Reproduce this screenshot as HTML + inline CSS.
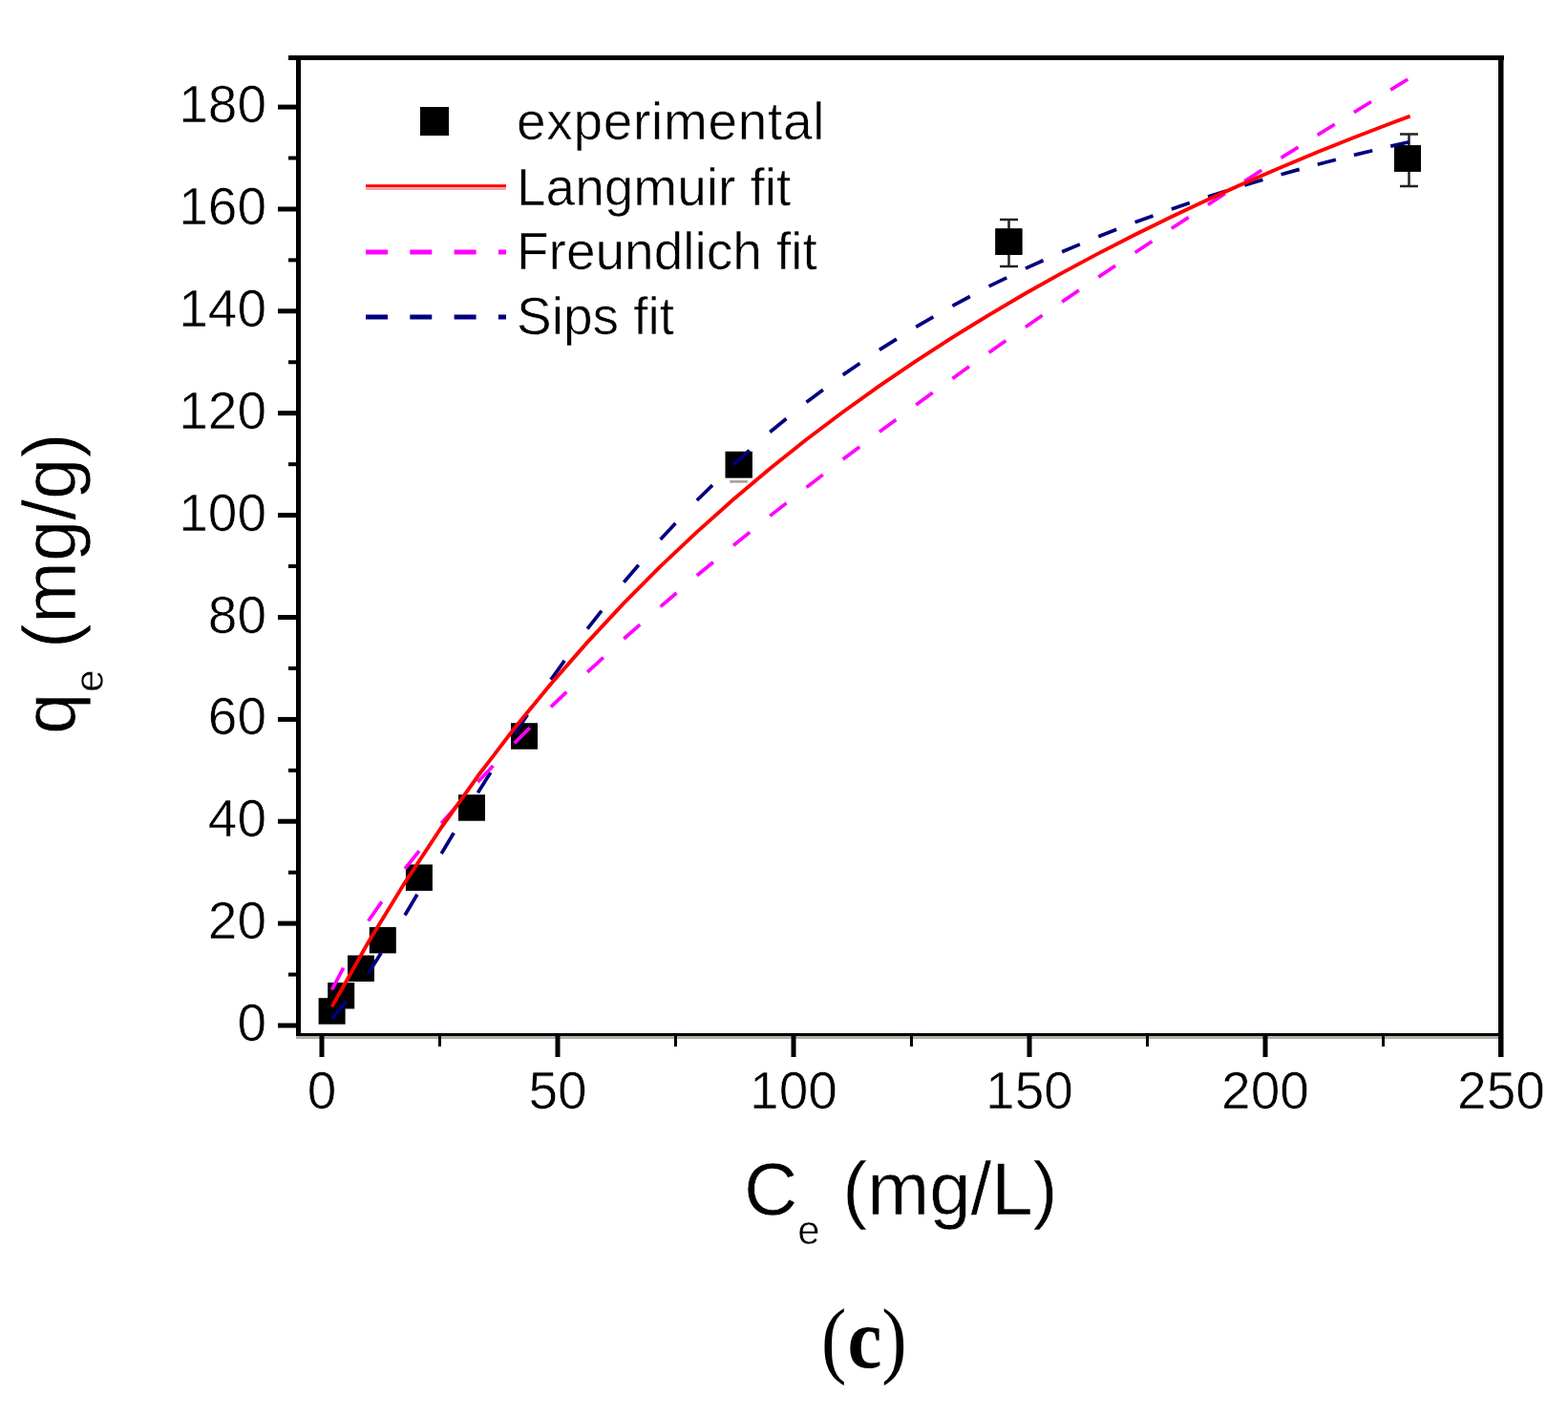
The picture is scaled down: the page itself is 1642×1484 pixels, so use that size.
<!DOCTYPE html>
<html><head><meta charset="utf-8"><title>Adsorption isotherm</title>
<style>
html,body{margin:0;padding:0;background:#fff;}
body{width:1642px;height:1484px;overflow:hidden;}
svg{display:block;}
.s{font-family:"Liberation Sans",Arial,sans-serif;fill:#000;stroke:#fff;stroke-width:0.6px;}
.r{font-family:"Liberation Serif","Times New Roman",serif;fill:#000;}
</style></head><body>
<svg width="1642" height="1484" viewBox="0 0 1642 1484">
<rect width="1642" height="1484" fill="#fff"/>

<g fill="#000">
<rect x="333.6" y="1045.2" width="28" height="27.5"/>
<rect x="343.2" y="1029.0" width="28" height="27.5"/>
<rect x="364.0" y="1000.5" width="28" height="27.5"/>
<rect x="386.8" y="970.9" width="28" height="27.5"/>
<rect x="424.9" y="905.4" width="28" height="27.5"/>
<rect x="480.0" y="832.2" width="28" height="27.5"/>
<rect x="535.0" y="757.2" width="28" height="27.5"/>
<rect x="759.7" y="472.9" width="28" height="27.5"/>
<rect x="1042.4" y="239.4" width="28" height="27.5"/>
<rect x="1460.0" y="152.2" width="28" height="27.5"/>
</g>
<g stroke="#222" stroke-width="2.5" fill="none">
<path d="M1056.5 230V279M1047.0 230H1066.0M1047.0 279H1066.0"/>
<path d="M1475.5 140.5V195M1466.0 140.5H1485.0M1466.0 195H1485.0"/>
</g>
<path d="M764.2 504.4H782.9" stroke="#a8a096" stroke-width="2.6"/>
<g fill="#000">
<rect x="1042.4" y="239.4" width="28" height="27.5"/>
<rect x="1460.0" y="152.2" width="28" height="27.5"/>
<rect x="759.7" y="472.9" width="28" height="27.5"/>
</g>
<path fill="none" stroke="#000080" stroke-width="3.7" d="M347.5 1067.3L362.5 1048.5M385.7 1019.4L399.1 998.1M424.0 958.5L436.9 936.7M462.2 894.0L475.2 872.3M500.4 830.2L513.8 808.9M538.6 769.1L552.4 748.4M576.9 711.8L591.2 691.9M615.1 658.7L630.0 639.7M653.3 609.8L668.7 591.8M691.6 565.0L707.4 548.0M729.8 524.0L746.1 508.1M768.0 486.6L784.8 471.7M806.3 452.5L823.4 438.5M844.5 421.2L861.9 408.2M882.7 392.6L900.5 380.5M920.9 366.4L938.9 355.1M959.2 342.4L977.4 331.9M997.4 320.3L1015.8 310.5M1035.6 299.9L1054.2 290.8M1073.9 281.1L1092.5 272.7M1112.1 263.8L1130.9 255.9M1150.3 247.7L1169.2 240.3M1188.6 232.8L1207.5 225.9M1226.8 218.9L1245.8 212.5M1265.0 206.0L1284.1 200.0M1303.2 194.0L1322.4 188.3M1341.5 182.7L1360.7 177.4M1379.7 172.2L1398.9 167.3M1417.9 162.4L1437.2 157.7M1456.2 153.1L1475.4 148.7"/>
<path fill="none" stroke="#ff00ff" stroke-width="3.7" d="M347.5 1036.6L359.6 1013.7M385.7 964.5L399.8 944.4M424.0 909.9L439.0 891.2M462.2 862.2L477.7 844.6M500.4 818.9L516.4 802.0M538.6 778.4L554.9 762.2M576.9 740.3L593.3 724.6M615.1 703.9L631.8 688.7M653.3 669.0L670.2 654.2M691.6 635.4L708.5 621.0M729.8 602.8L746.9 588.7M768.0 571.2L785.2 557.4M806.3 540.4L823.5 526.9M844.5 510.4L861.8 497.1M882.7 481.0L900.2 467.9M920.9 452.3L938.4 439.4M959.2 424.1L976.7 411.3M997.4 396.4L1015.0 383.8M1035.6 369.2L1053.3 356.8M1073.9 342.4L1091.6 330.2M1112.1 316.1L1129.9 304.0M1150.3 290.1L1168.1 278.2M1188.6 264.5L1206.4 252.7M1226.8 239.3L1244.7 227.6M1265.0 214.4L1282.9 202.8M1303.2 189.7L1321.2 178.3M1341.5 165.4L1359.5 154.1M1379.7 141.4L1397.7 130.2M1417.9 117.6L1436.0 106.5M1456.2 94.1L1474.2 83.0"/>
<polyline fill="none" stroke="#ff0000" stroke-width="3.9" stroke-linejoin="round" points="347.5,1054.4 385.7,986.8 424.0,924.3 462.2,866.5 500.4,812.8 538.6,762.8 576.9,716.2 615.1,672.6 653.3,631.7 691.6,593.2 729.8,557.1 768.0,523.0 806.3,490.8 844.5,460.3 882.7,431.5 920.9,404.1 959.2,378.1 997.4,353.3 1035.6,329.8 1073.9,307.3 1112.1,285.9 1150.3,265.4 1188.6,245.8 1226.8,227.0 1265.0,209.0 1303.2,191.8 1341.5,175.2 1379.7,159.3 1417.9,144.0 1456.2,129.3 1476.7,121.7"/>
<g fill="#000">
<rect x="302" y="58" width="273" height="5"/>
<rect x="302" y="58" width="1273" height="5"/>
<rect x="310" y="58" width="5" height="1027"/>
<rect x="1569" y="58" width="5.5" height="1049"/>
<rect x="310" y="1082" width="1264" height="3"/>
</g>
<rect x="310" y="1085" width="1259" height="3" fill="#b2aea6"/>
<g fill="#000">
<rect x="334.5" y="1085" width="5" height="22"/>
<rect x="581.5" y="1085" width="5" height="22"/>
<rect x="828.5" y="1085" width="5" height="22"/>
<rect x="1075.5" y="1085" width="5" height="22"/>
<rect x="1322.5" y="1085" width="5" height="22"/>
<rect x="459.0" y="1085" width="3" height="11"/>
<rect x="706.0" y="1085" width="3" height="11"/>
<rect x="953.0" y="1085" width="3" height="11"/>
<rect x="1200.0" y="1085" width="3" height="11"/>
<rect x="1447.0" y="1085" width="3" height="11"/>
<rect x="291" y="1071.5" width="19" height="5"/>
<rect x="291" y="964.6" width="19" height="5"/>
<rect x="291" y="857.7" width="19" height="5"/>
<rect x="291" y="750.9" width="19" height="5"/>
<rect x="291" y="644.0" width="19" height="5"/>
<rect x="291" y="537.1" width="19" height="5"/>
<rect x="291" y="430.2" width="19" height="5"/>
<rect x="291" y="323.3" width="19" height="5"/>
<rect x="291" y="216.5" width="19" height="5"/>
<rect x="291" y="109.6" width="19" height="5"/>
<rect x="302" y="1018.6" width="8" height="4"/>
<rect x="302" y="911.7" width="8" height="4"/>
<rect x="302" y="804.8" width="8" height="4"/>
<rect x="302" y="697.9" width="8" height="4"/>
<rect x="302" y="591.0" width="8" height="4"/>
<rect x="302" y="484.2" width="8" height="4"/>
<rect x="302" y="377.3" width="8" height="4"/>
<rect x="302" y="270.4" width="8" height="4"/>
<rect x="302" y="163.5" width="8" height="4"/>
</g>
<g class="s" font-size="55" text-anchor="middle">
<text x="337.0" y="1161">0</text>
<text x="584.0" y="1161">50</text>
<text x="831.0" y="1161">100</text>
<text x="1078.0" y="1161">150</text>
<text x="1325.0" y="1161">200</text>
<text x="1572.0" y="1161">250</text>
</g>
<g class="s" font-size="55" text-anchor="end">
<text x="279" y="1090.0">0</text>
<text x="279" y="983.1">20</text>
<text x="279" y="876.2">40</text>
<text x="279" y="769.4">60</text>
<text x="279" y="662.5">80</text>
<text x="279" y="555.6">100</text>
<text x="279" y="448.7">120</text>
<text x="279" y="341.8">140</text>
<text x="279" y="235.0">160</text>
<text x="279" y="128.1">180</text>
</g>
<text class="s" x="779" y="1272" font-size="78">C</text>
<text class="s" x="835.3" y="1302.5" font-size="42">e</text>
<text class="s" x="882.2" y="1272" font-size="78">(mg/L)</text>
<g transform="translate(79,769) rotate(-90)">
<text class="s" x="0" y="0" font-size="78">q</text>
<text class="s" x="44.3" y="29" font-size="42">e</text>
<text class="s" x="90" y="0" font-size="78">(mg/g)</text>
</g>
<rect x="440" y="112" width="30" height="30" fill="#000"/>
<rect x="383" y="193.2" width="147" height="3" fill="#ff0000"/>
<rect x="383" y="196.2" width="147" height="2.8" fill="#f4a0a0"/>
<path d="M383 264H530" stroke="#ff00ff" stroke-width="5" stroke-dasharray="23 23.3"/>
<path d="M383 332H530" stroke="#000080" stroke-width="5" stroke-dasharray="23 23.3"/>
<g class="s" font-size="55">
<text x="541" y="146.3" textLength="322.5">experimental</text>
<text x="541" y="214.8">Langmuir fit</text>
<text x="541" y="282.4">Freundlich fit</text>
<text x="541" y="350.4">Sips fit</text>
</g>
<text class="r" transform="translate(860,1432) scale(0.9,1)" x="0" y="0" font-size="88">(</text>
<text class="r" x="887.5" y="1432" font-size="88" font-weight="bold" transform="translate(887.5,0) scale(0.92,1) translate(-887.5,0)">c</text>
<text class="r" transform="translate(923.3,1432) scale(0.9,1)" x="0" y="0" font-size="88">)</text>
</svg></body></html>
